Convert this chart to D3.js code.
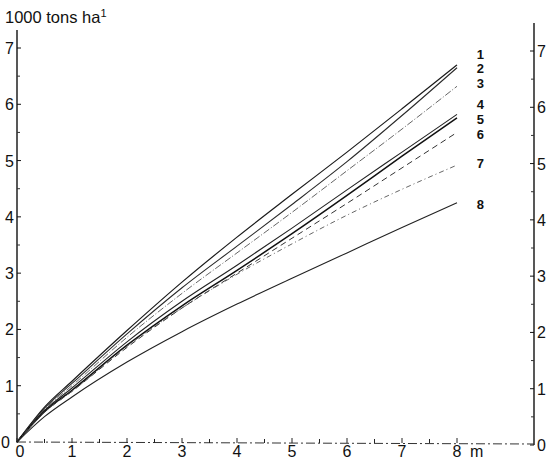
<!DOCTYPE html>
<html>
<head>
<meta charset="utf-8">
<script src="https://cdn.jsdelivr.net/npm/d3@7"></script>
<style>
  body { margin: 0; background: #fff; }
  svg text { font-family: "Liberation Sans", Arial, sans-serif; fill: #111; }
</style>
</head>
<body>
<svg id="chart"></svg>
<script>
// distance from the edge (m)
const xs = [0, 0.5, 1, 2, 3, 4, 5, 6, 7, 8];

// yield, 1000 tons per ha
const curve1 = [0, 0.62, 1.08, 1.98, 2.84, 3.64, 4.40, 5.15, 5.92, 6.70];
const curve2 = [0, 0.60, 1.04, 1.92, 2.74, 3.48, 4.22, 4.98, 5.80, 6.65];
const curve3 = [0, 0.58, 1.00, 1.86, 2.64, 3.36, 4.08, 4.82, 5.56, 6.32];
const curve4 = [0, 0.56, 0.96, 1.78, 2.50, 3.14, 3.80, 4.48, 5.15, 5.82];
const curve5 = [0, 0.54, 0.92, 1.72, 2.42, 3.05, 3.70, 4.38, 5.08, 5.76];
const curve6 = [0, 0.53, 0.90, 1.68, 2.38, 3.00, 3.62, 4.24, 4.87, 5.50];
const curve7 = [0, 0.53, 0.90, 1.70, 2.38, 2.98, 3.52, 4.03, 4.49, 4.92];
const curve8 = [0, 0.45, 0.80, 1.42, 1.96, 2.45, 2.91, 3.36, 3.81, 4.25];

const curveNames = ["1", "2", "3", "4", "5", "6", "7", "8"];
const labelValues = [6.90, 6.65, 6.38, 6.00, 5.74, 5.48, 4.96, 4.23];

const xTicks = [0, 1, 2, 3, 4, 5, 6, 7, 8];
const yTicks = [0, 1, 2, 3, 4, 5, 6, 7];

const series = [curve1, curve2, curve3, curve4, curve5, curve6, curve7, curve8];
const styles = [
  { dash: null, w: 1.2, c: "#1a1a1a" },
  { dash: null, w: 1.1, c: "#2a2a2a" },
  { dash: "7,2,1,2", w: 0.9, c: "#555" },
  { dash: null, w: 1.1, c: "#222" },
  { dash: null, w: 1.5, c: "#111" },
  { dash: "6,4", w: 1.0, c: "#333" },
  { dash: "5,3,1,3", w: 0.9, c: "#555" },
  { dash: null, w: 1.1, c: "#222" }
];

const width = 547, height = 459;
const svg = d3.select("#chart").attr("width", width).attr("height", height);

const x = d3.scaleLinear().domain([0, 8]).range([17, 457]);
const y = d3.scaleLinear().domain([0, 7]).range([442, 48]);
const rightX = 534;

// left axis
const left = svg.append("g").attr("transform", `translate(${x(0)},0)`);
left.append("line").attr("y1", 30).attr("y2", y(0)).attr("stroke", "#111").attr("stroke-width", 1.4);
left.selectAll(".minor").data(d3.range(0.5, 7, 1)).join("line")
  .attr("x1", 0).attr("x2", 3).attr("y1", d => y(d)).attr("y2", d => y(d))
  .attr("stroke", "#333");
left.selectAll(".major").data(yTicks.slice(1)).join("line")
  .attr("x1", 0).attr("x2", 4).attr("y1", d => y(d)).attr("y2", d => y(d))
  .attr("stroke", "#111");
left.selectAll("text").data(yTicks).join("text")
  .attr("x", d => d === 0 ? -7 : -3).attr("y", d => y(d) + 6)
  .attr("text-anchor", "end").style("font-size", "16px")
  .text(d => d);

// right axis
const right = svg.append("g").attr("transform", `translate(${rightX},3)`);
right.append("line").attr("y1", 20).attr("y2", y(0)).attr("stroke", "#111").attr("stroke-width", 1.4);
right.selectAll(".minor").data(d3.range(0.5, 7, 1)).join("line")
  .attr("x1", 0).attr("x2", -3).attr("y1", d => y(d)).attr("y2", d => y(d))
  .attr("stroke", "#333");
right.selectAll(".major").data(yTicks).join("line")
  .attr("x1", 0).attr("x2", -4).attr("y1", d => y(d)).attr("y2", d => y(d))
  .attr("stroke", "#111");
right.selectAll("text").data(yTicks).join("text")
  .attr("x", 3).attr("y", d => y(d) + 6)
  .style("font-size", "16px")
  .text(d => d);

// bottom axis: dash-dot baseline with upward ticks
const bottom = svg.append("g").attr("transform", `translate(0,${y(0)})`);
bottom.append("line").attr("x1", x(0)).attr("x2", rightX).attr("y1", 0).attr("y2", 2)
  .attr("stroke", "#333").attr("stroke-width", 1).attr("stroke-dasharray", "9,3,2,3");
bottom.selectAll(".tk").data(d3.range(0, 8.5, 0.5)).join("line")
  .attr("x1", d => x(d)).attr("x2", d => x(d))
  .attr("y1", d => d % 1 === 0 ? -4 : -3).attr("y2", 1)
  .attr("stroke", "#222");
bottom.selectAll("text").data(xTicks).join("text")
  .attr("x", d => x(d) + (d === 0 ? 3 : 0)).attr("y", 15)
  .attr("text-anchor", "middle").style("font-size", "16px")
  .text(d => d);
bottom.append("text").attr("x", x(8) + 13).attr("y", 15)
  .style("font-size", "16px").text("m");

// unit title
const title = svg.append("text").attr("x", 5).attr("y", 23).style("font-size", "16.5px");
title.append("tspan").text("1000 tons ha");
title.append("tspan").attr("dy", -6).style("font-size", "11px").text("1");

// curves
const line = d3.line()
  .x((d, i) => x(xs[i]))
  .y(d => y(d))
  .curve(d3.curveMonotoneX);

svg.append("g").selectAll("path").data(series).join("path")
  .attr("d", d => line(d))
  .attr("fill", "none")
  .attr("stroke", (d, i) => styles[i].c)
  .attr("stroke-width", (d, i) => styles[i].w)
  .attr("stroke-dasharray", (d, i) => styles[i].dash);

// curve numbers
svg.append("g").selectAll("text").data(curveNames).join("text")
  .attr("x", x(8) + 27).attr("y", (d, i) => y(labelValues[i]) + 5)
  .attr("text-anchor", "end")
  .style("font-size", "13px").style("font-weight", "bold")
  .text(d => d);
</script>
</body>
</html>
